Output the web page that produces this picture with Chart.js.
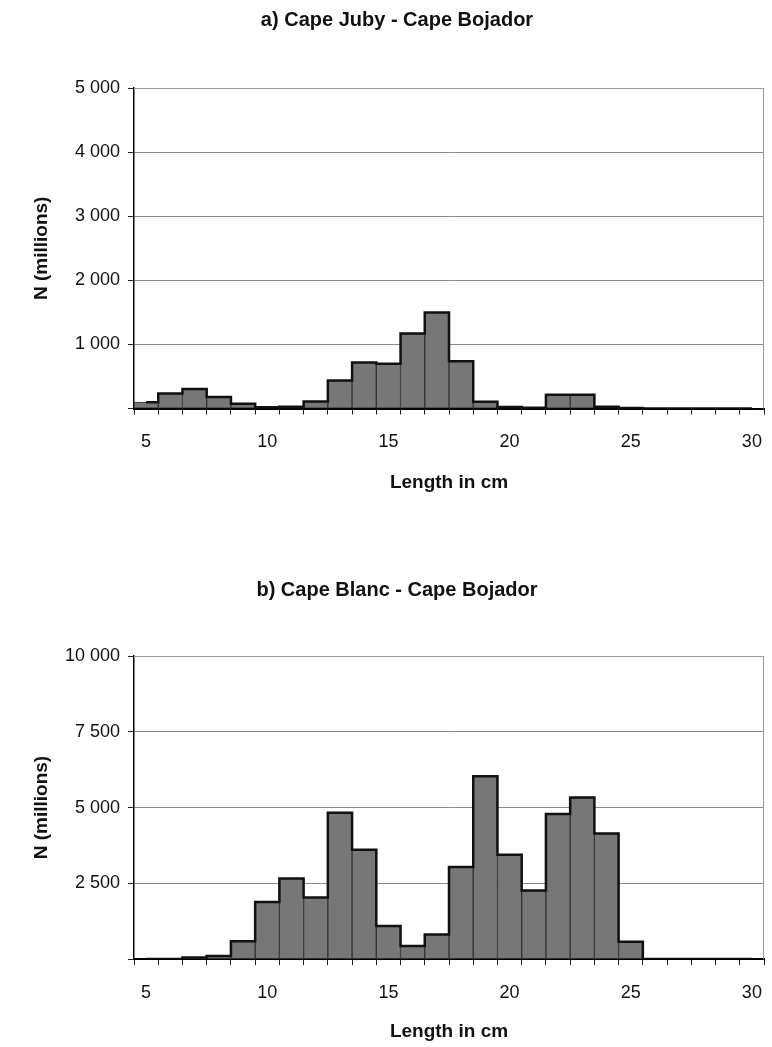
<!DOCTYPE html>
<html>
<head>
<meta charset="utf-8">
<script src="https://cdn.jsdelivr.net/npm/chart.js@4/dist/chart.umd.min.js"></script>
<style>
  body { margin: 0; background: #fff; }
  .box { position: absolute; left: 0; width: 772px; }
  #wrapA { top: 0; height: 498px; }
  #wrapB { top: 560px; height: 487px; }
</style>
</head>
<body>
<div class="box" id="wrapA"><canvas id="chartA"></canvas></div>
<div class="box" id="wrapB"><canvas id="chartB"></canvas></div>
<script>
/* data */
var lengths = ['5','6','7','8','9','10','11','12','13','14','15','16','17','18','19','20','21','22','23','24','25','26','27','28','29','30'];
var nJuby  = [100, 235, 305, 180, 75, 20, 30, 110, 440, 720, 700, 1170, 1500, 740, 105, 25, 15, 215, 215, 30, 10, 0, 0, 0, 0, 0];
var nBlanc = [0, 0, 50, 105, 585, 1880, 2660, 2035, 4830, 3610, 1090, 430, 810, 3040, 6030, 3440, 2260, 4790, 5330, 4140, 575, 0, 0, 0, 0, 0];
var titleA = 'a) Cape Juby - Cape Bojador';
var titleB = 'b) Cape Blanc - Cape Bojador';
var yMaxA = 5000, yStepA = 1000;
var yMaxB = 10000, yStepB = 2500;

var FONT = '"Liberation Sans", Arial, sans-serif';

function fmt(v) {
  return String(v).replace(/\B(?=(\d{3})+(?!\d))/g, ' ');
}

/* grey frame on top and right of plot */
var framePlugin = {
  id: 'frame',
  beforeDatasetsDraw: function (chart) {
    var a = chart.chartArea, c = chart.ctx;
    c.save();
    c.strokeStyle = '#9a9a9a';
    c.lineWidth = 1;
    c.beginPath();
    c.moveTo(a.left, a.top + 0.5);
    c.lineTo(a.right - 0.5, a.top + 0.5);
    c.lineTo(a.right - 0.5, a.bottom);
    c.stroke();
    c.restore();
  }
};

function makeChart(id, title, values, yMax, yStep, lay) {
  var ctx = document.getElementById(id).getContext('2d');
  return new Chart(ctx, {
    data: {
      labels: lengths,
      datasets: [
        {
          type: 'line',
          data: values,
          stepped: 'middle',
          borderColor: '#111',
          borderWidth: 2.5,
          pointRadius: 0,
          fill: false,
          order: 0
        },
        {
          type: 'bar',
          data: values,
          backgroundColor: '#777777',
          borderColor: '#333',
          borderWidth: 1,
          borderSkipped: false,
          barPercentage: 1,
          categoryPercentage: 1,
          order: 1
        }
      ]
    },
    options: {
      responsive: true,
      maintainAspectRatio: false,
      animation: false,
      layout: { padding: { left: 30, right: 8, top: 0, bottom: lay.bottom } },
      plugins: {
        legend: { display: false },
        tooltip: { enabled: false },
        title: {
          display: true,
          text: title,
          color: '#111',
          font: { family: FONT, size: 20, weight: 'bold' },
          padding: { top: lay.titleTop, bottom: lay.titleBottom }
        }
      },
      scales: {
        x: {
          offset: true,
          afterFit: function (s) { s.paddingRight = 0; s.paddingLeft = 0; },
          grid: {
            display: true,
            drawOnChartArea: false,
            drawTicks: true,
            tickLength: 6,
            color: '#222',
            offset: true
          },
          border: { display: true, color: '#000', width: 2 },
          ticks: {
            autoSkip: false,
            maxRotation: 0,
            padding: 17,
            color: '#111',
            font: { family: FONT, size: 18 },
            callback: function (v, i) {
              var lab = lengths[i];
              return (parseInt(lab) % 5 === 0) ? lab : '';
            }
          },
          title: {
            display: true,
            text: 'Length in cm',
            color: '#111',
            font: { family: FONT, size: 19, weight: 'bold' },
            padding: { top: lay.xTitleTop, bottom: 0 }
          }
        },
        y: {
          min: 0,
          max: yMax,
          afterFit: function (s) { s.width = 104; },
          grid: {
            color: '#8a8a8a',
            tickColor: '#222',
            tickLength: 6,
            drawTicks: true
          },
          border: { display: true, color: '#000', width: 1.5 },
          ticks: {
            stepSize: yStep,
            padding: 8,
            color: '#111',
            font: { family: FONT, size: 18 },
            callback: function (v) { return v === 0 ? '' : fmt(v); }
          },
          title: {
            display: true,
            text: 'N (millions)',
            color: '#111',
            font: { family: FONT, size: 19, weight: 'bold' },
            padding: { top: 0, bottom: 8 }
          }
        }
      }
    },
    plugins: [framePlugin]
  });
}

var chartA = makeChart('chartA', titleA, nJuby, yMaxA, yStepA,
  { titleTop: 8, titleBottom: 56, bottom: 4, xTitleTop: 1 });
var chartB = makeChart('chartB', titleB, nBlanc, yMaxB, yStepB,
  { titleTop: 18, titleBottom: 54, bottom: 3.5, xTitleTop: 0 });
</script>
</body>
</html>
